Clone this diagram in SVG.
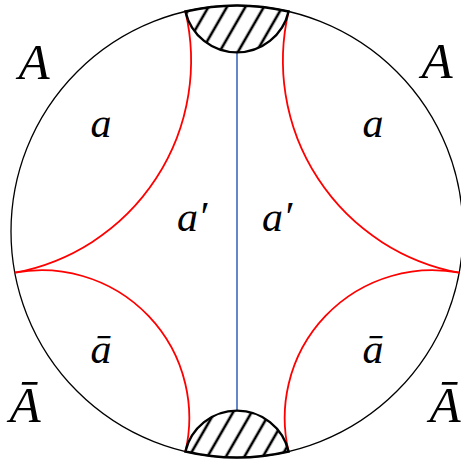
<svg xmlns="http://www.w3.org/2000/svg" width="461" height="459" viewBox="0 0 461 459">
<style>
.geo{fill:none;stroke:#ff0000;stroke-width:1.8}
.bd{fill:none;stroke:#000;stroke-width:1.3}
.cap{fill:url(#hatch);stroke:#000;stroke-width:2.4}
.lbl{font-family:"Liberation Serif","Times New Roman",serif;font-style:italic;fill:#000}
.big{font-size:51px}
.sm{font-size:42px}
</style>
<defs>
<pattern id="hatch" patternUnits="userSpaceOnUse" width="16" height="16" patternTransform="rotate(30)">
<rect width="16" height="16" fill="#fff"/>
<line x1="8" y1="-2" x2="8" y2="18" stroke="#000" stroke-width="2.6"/>
</pattern>
</defs>
<rect width="461" height="459" fill="#fff"/>
<g id="disk">
<circle class="bd" cx="237" cy="231.5" r="226"/>
</g>
<g id="connectors">
<line x1="237" y1="52.4" x2="237" y2="410.6" stroke="#4a72c0" stroke-width="1.7"/>
<path class="geo" d="M185.4,11.5 A215.6,215.6 0 0 1 14.8,272.7"/>
<path class="geo" d="M14.8,272.7 A147.6,147.6 0 0 1 185.4,451.5"/>
<path class="geo" d="M288.6,11.5 A215.6,215.6 0 0 0 459.2,272.7"/>
<path class="geo" d="M459.2,272.7 A147.6,147.6 0 0 0 288.6,451.5"/>
</g>
<g id="cap-top">
<path class="cap" d="M185.4,11.5 A53,53 0 0 0 288.6,11.5 A226,226 0 0 0 185.4,11.5 Z"/>
</g>
<g id="cap-bottom">
<path class="cap" d="M185.4,451.5 A53,53 0 0 1 288.6,451.5 A226,226 0 0 1 185.4,451.5 Z"/>
</g>
<g id="labels">
<text class="lbl big" x="34" y="79" text-anchor="middle">A</text>
<text class="lbl big" x="437" y="78" text-anchor="middle">A</text>
<text class="lbl big" x="25" y="422" text-anchor="middle">Ā</text>
<text class="lbl big" x="445" y="422" text-anchor="middle">Ā</text>
<text class="lbl sm" x="101" y="137" text-anchor="middle">a</text>
<text class="lbl sm" x="373" y="137" text-anchor="middle">a</text>
<text class="lbl sm" x="177" y="231">a′</text>
<text class="lbl sm" x="262" y="231">a′</text>
<text class="lbl sm" x="101" y="363" text-anchor="middle">ā</text>
<text class="lbl sm" x="373" y="363" text-anchor="middle">ā</text>
</g>
</svg>
